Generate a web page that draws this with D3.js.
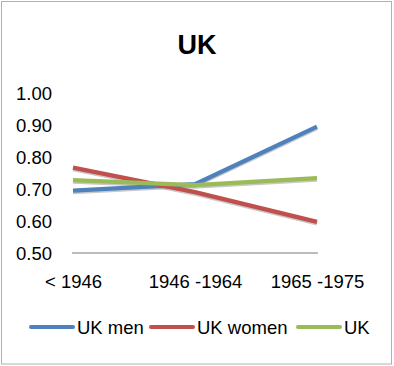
<!DOCTYPE html>
<html><head><meta charset="utf-8">
<script src="https://cdn.jsdelivr.net/npm/d3@7"></script>
<style>body{margin:0;background:#fff}svg{display:block}text{font-family:"Liberation Sans",Arial,sans-serif}</style>
</head><body>
<svg id="c" width="394" height="366"></svg>
<script>
const categories = ["< 1946", "1946 -1964", "1965 -1975"];
const seriesNames = ["UK men", "UK women", "UK"];
const ukMen = [0.695, 0.715, 0.895];
const ukWomen = [0.767, 0.690, 0.597];
const ukAll = [0.728, 0.712, 0.734];
const yTicks = [0.5, 0.6, 0.7, 0.8, 0.9, 1.0];
const colors = ["#4F81BD", "#C0504D", "#9BBB59"];

const svg = d3.select("#c");
svg.append("rect").attr("x",1.5).attr("y",1.5).attr("width",390).attr("height",362.5)
  .attr("fill","#fff").attr("stroke","#b0b0b0").attr("stroke-width",1);

svg.append("text").attr("x",197).attr("y",54).attr("text-anchor","middle")
  .attr("font-size",27).attr("font-weight","bold").text("UK");

const x = d3.scalePoint().domain(categories).range([73, 317]);
const y = d3.scaleLinear().domain([0.5, 1.0]).range([253, 93]);

// baseline
svg.append("line").attr("x1",72).attr("x2",318).attr("y1",y(0.5)).attr("y2",y(0.5))
  .attr("stroke","#a6a6a6").attr("stroke-width",1.3);

const yAxis = d3.axisLeft(y).tickValues(yTicks).tickFormat(d3.format(".2f")).tickSize(0).tickPadding(0);
const gy = svg.append("g").attr("transform","translate(52,0)").call(yAxis);
gy.select(".domain").remove();
gy.selectAll("text").attr("font-size",18.5).attr("fill","#000").attr("dy","0.35em");

const xAxis = d3.axisBottom(x).tickSize(0).tickPadding(0);
const gx = svg.append("g").attr("transform","translate(0,275)").call(xAxis);
gx.select(".domain").remove();
gx.selectAll("text").attr("font-size",18.5).attr("fill","#000").attr("dy","0.72em");

const data = [ukMen, ukWomen, ukAll];
const line = d3.line().x((d,i)=>x(categories[i])).y(d=>y(d));
data.forEach((s,k)=>{
  svg.append("path").attr("d",line(s)).attr("fill","none").attr("stroke","#9a9a9a")
    .attr("stroke-opacity",0.55).attr("stroke-width",4.3).attr("transform","translate(0,1.5)");
});
data.forEach((s,k)=>{
  svg.append("path").attr("d",line(s)).attr("fill","none").attr("stroke",colors[k])
    .attr("stroke-width",4.3).attr("stroke-linejoin","round");
});

// legend
const legX = [31, 151, 298];
const lg = svg.append("g");
seriesNames.forEach((n,k)=>{
  lg.append("line").attr("x1",legX[k]).attr("x2",legX[k]+42).attr("y1",327).attr("y2",327)
    .attr("stroke",colors[k]).attr("stroke-width",4).attr("stroke-linecap","round");
  lg.append("text").attr("x",legX[k]+46).attr("y",334).attr("font-size",18.5).text(n);
});
</script>
</body></html>
